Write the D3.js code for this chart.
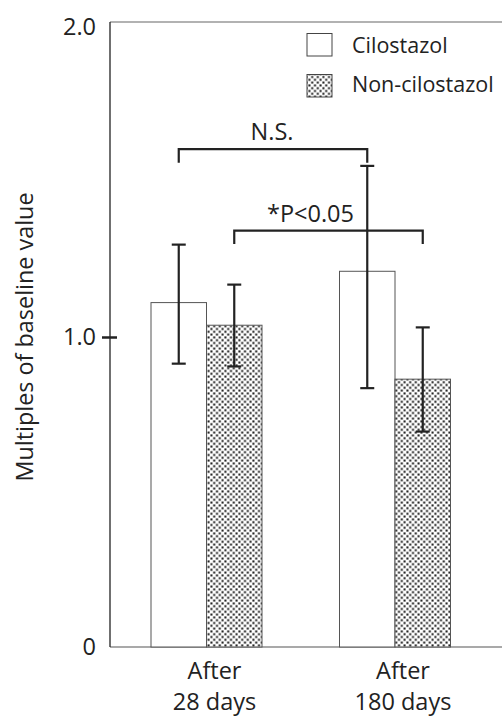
<!DOCTYPE html>
<html>
<head>
<meta charset="utf-8">
<script src="https://cdn.jsdelivr.net/npm/d3@7"></script>
<style>
  html, body { margin: 0; padding: 0; background: #fff; }
  svg { display: block; font-family: "Open Sans", "Noto Sans", sans-serif; }
</style>
</head>
<body>
<svg id="chart" width="502" height="718"></svg>
<script>
// ---- data ----
const groups = ["After 28 days", "After 180 days"];
const groupLines = [["After", "28 days"], ["After", "180 days"]];
const series = ["Cilostazol", "Non-cilostazol"];
const cilostazolMean = [1.111, 1.212];
const cilostazolUpper = [1.298, 1.552];
const cilostazolLower = [0.914, 0.835];
const nonCilostazolMean = [1.038, 0.864];
const nonCilostazolUpper = [1.169, 1.031];
const nonCilostazolLower = [0.905, 0.695];
const yTickValues = [0, 1.0, 2.0];
const yTickLabels = ["0", "1.0", "2.0"];
const brackets = [
  { label: "N.S.", from: [0, "Cilostazol"], to: [1, "Cilostazol"], y: 1.606, drop: 1.562, dx: -1 },
  { label: "*P<0.05", from: [0, "Non-cilostazol"], to: [1, "Non-cilostazol"], y: 1.343, drop: 1.300, dx: -18 }
];

const rows = [];
groups.forEach((g, i) => {
  rows.push({ group: g, series: "Cilostazol", mean: cilostazolMean[i], lo: cilostazolLower[i], hi: cilostazolUpper[i] });
  rows.push({ group: g, series: "Non-cilostazol", mean: nonCilostazolMean[i], lo: nonCilostazolLower[i], hi: nonCilostazolUpper[i] });
});

// ---- layout ----
const svg = d3.select("#chart");
const axisX = 110, plotRight = 502, plotTop = 22, baseY = 647;
const y = d3.scaleLinear().domain([0, 2]).range([baseY, 27]);
const xg = d3.scalePoint().domain(groups).range([206.5, 395]);
const xs = d3.scaleBand().domain(series).range([-55.5, 55.5]);
const ink = "#222";

// pattern
const defs = svg.append("defs");
const pat = defs.append("pattern").attr("id", "dots").attr("patternUnits", "userSpaceOnUse")
  .attr("width", 5.6).attr("height", 5.6);
pat.append("rect").attr("width", 5.6).attr("height", 5.6).attr("fill", "#fff");
pat.append("rect").attr("x", 0.4).attr("y", 0.4).attr("width", 2).attr("height", 2).attr("fill", "#111");
pat.append("rect").attr("x", 3.2).attr("y", 3.2).attr("width", 2).attr("height", 2).attr("fill", "#111");
const fillFor = s => s === "Cilostazol" ? "#fff" : "url(#dots)";

// frame
svg.append("line").attr("x1", axisX).attr("x2", plotRight).attr("y1", plotTop).attr("y2", plotTop)
  .attr("stroke", "#666").attr("stroke-width", 1.2);
svg.append("line").attr("x1", axisX).attr("x2", plotRight).attr("y1", baseY).attr("y2", baseY)
  .attr("stroke", "#555").attr("stroke-width", 1.2);

// bars
svg.append("g").selectAll("rect").data(rows).join("rect")
  .attr("x", d => xg(d.group) + xs(d.series))
  .attr("y", d => y(d.mean))
  .attr("width", xs.bandwidth())
  .attr("height", d => y(0) - y(d.mean))
  .attr("fill", d => fillFor(d.series))
  .attr("stroke", "#555").attr("stroke-width", 1);

// y axis
const yAxis = d3.axisLeft(y).tickValues(yTickValues).tickFormat((d, i) => yTickLabels[i]).tickSize(0).tickPadding(14);
const ga = svg.append("g").attr("transform", `translate(${axisX},0)`).call(yAxis);
ga.select(".domain").attr("stroke", ink).attr("stroke-width", 1.3).attr("d", `M0,${plotTop}V${baseY}`);
ga.selectAll("text").attr("font-size", 23.5).attr("fill", ink).attr("font-family", "Open Sans");
ga.selectAll(".tick").filter(d => d === 1.0).append("line")
  .attr("x1", -8).attr("x2", 7).attr("stroke", ink).attr("stroke-width", 2.5);

// error bars
const eb = svg.append("g").attr("stroke", ink).attr("stroke-width", 2.2);
rows.forEach(d => {
  const cx = xg(d.group) + xs(d.series) + xs.bandwidth() / 2;
  eb.append("line").attr("x1", cx).attr("x2", cx).attr("y1", y(d.hi)).attr("y2", y(d.lo));
  eb.append("line").attr("x1", cx - 7).attr("x2", cx + 7).attr("y1", y(d.hi)).attr("y2", y(d.hi));
  eb.append("line").attr("x1", cx - 7).attr("x2", cx + 7).attr("y1", y(d.lo)).attr("y2", y(d.lo));
});

// brackets
const bg = svg.append("g");
brackets.forEach(b => {
  const x1 = xg(groups[b.from[0]]) + xs(b.from[1]) + xs.bandwidth() / 2;
  const x2 = xg(groups[b.to[0]]) + xs(b.to[1]) + xs.bandwidth() / 2;
  bg.append("path")
    .attr("d", `M${x1},${y(b.drop)}V${y(b.y)}H${x2}V${y(b.drop)}`)
    .attr("fill", "none").attr("stroke", ink).attr("stroke-width", 2.2);
  bg.append("text").attr("x", (x1 + x2) / 2 + b.dx).attr("y", y(b.y) - 9)
    .attr("text-anchor", "middle").attr("font-size", 23.5).attr("fill", ink).text(b.label);
});

// x labels
const xl = svg.append("g");
groups.forEach((g, i) => {
  const t = xl.append("text").attr("x", xg(g) + 8).attr("y", 679).attr("text-anchor", "middle")
    .attr("font-size", 23.5).attr("fill", ink);
  t.append("tspan").attr("x", xg(g) + 8).attr("y", 679).text(groupLines[i][0]);
  t.append("tspan").attr("x", xg(g) + 8).attr("y", 710).text(groupLines[i][1]);
});

// y title
svg.append("text").attr("transform", "translate(33,337) rotate(-90)")
  .attr("text-anchor", "middle").attr("font-size", 23.4).attr("fill", ink)
  .text("Multiples of baseline value");

// legend
const lg = svg.append("g");
series.forEach((s, i) => {
  const top = i === 0 ? 33.5 : 74.5;
  lg.append("rect").attr("x", 307).attr("y", top).attr("width", 25).attr("height", 22.5)
    .attr("fill", fillFor(s)).attr("stroke", "#444").attr("stroke-width", 1);
  lg.append("text").attr("x", 352).attr("y", i === 0 ? 53 : 92).attr("font-size", 21.5)
    .attr("fill", ink).text(s);
});
</script>
</body>
</html>
